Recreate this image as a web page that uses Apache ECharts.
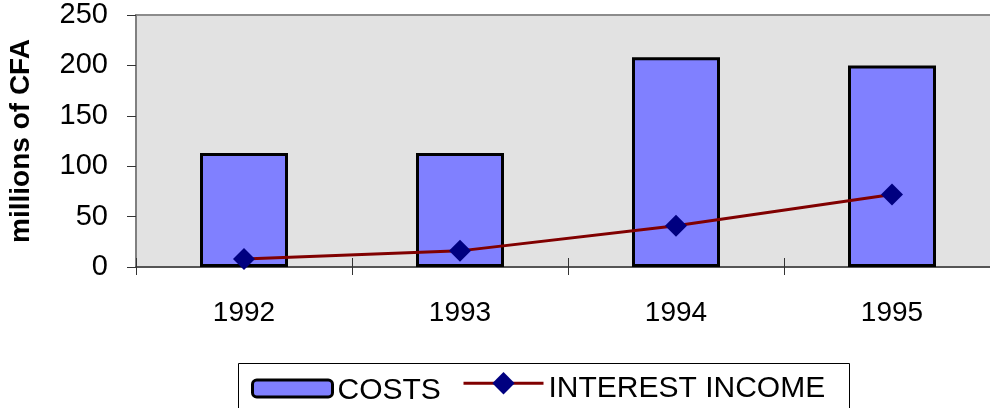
<!DOCTYPE html>
<html>
<head>
<meta charset="utf-8">
<script src="https://cdn.jsdelivr.net/npm/echarts@6/dist/echarts.min.js"></script>
<style>
html,body{margin:0;padding:0;overflow:hidden;background:#fff;}
#chart{width:1000px;height:408px;}
</style>
</head>
<body>
<div id="chart"></div>
<script>
const categories = ['1992', '1993', '1994', '1995'];
const costs = [113, 113, 208, 200];
const interestIncome = [8, 16, 41, 72];
const yTicks = [0, 50, 100, 150, 200, 250];

const FONT = '"Liberation Sans", Arial, sans-serif';
const chart = echarts.init(document.getElementById('chart'), null, {renderer: 'canvas'});
chart.setOption({
  animation: false,
  textStyle: {fontFamily: FONT},
  grid: {
    left: 136, right: 0, top: 15, bottom: 141,
    containLabel: false,
    outerBoundsMode: 'none',
    show: true, backgroundColor: '#e2e2e2',
    borderColor: '#8c8c8c', borderWidth: 2
  },
  graphic: [{
    type: 'rect',
    z: 0,
    shape: {x: 238.5, y: 363.5, width: 611, height: 60},
    style: {fill: '#fff', stroke: '#000', lineWidth: 1}
  }],
  legend: [
    {
      left: 251, top: 376,
      padding: 0,
      itemWidth: 80, itemHeight: 17,
      itemStyle: {borderColor: '#000', borderWidth: 3},
      formatter: name => '{t|' + name + '}',
      textStyle: {
        fontFamily: FONT, fontSize: 30, color: '#000',
        rich: {t: {fontFamily: FONT, fontSize: 30, color: '#000', padding: [5, 0, 0, 0]}}
      },
      data: [{name: 'COSTS'}]
    },
    {
      left: 462, top: 372,
      padding: 0,
      itemWidth: 80, itemHeight: 28,
      lineStyle: {width: 3, color: '#800000'},
      formatter: name => '{t|' + name + '}',
      textStyle: {
        fontFamily: FONT, fontSize: 30, color: '#000',
        rich: {t: {fontFamily: FONT, fontSize: 30, color: '#000', padding: [12, 0, 0, 0]}}
      },
      data: [{name: 'INTEREST INCOME'}]
    }
  ],
  xAxis: [
    {
      type: 'category',
      data: categories,
      axisLine: {lineStyle: {color: '#555', width: 2}},
      axisTick: {show: true, length: 8, lineStyle: {color: '#333', width: 1}},
      axisLabel: {fontSize: 28, color: '#000', margin: 32, fontFamily: FONT},
      splitLine: {show: false}
    },
    {
      type: 'category',
      data: categories,
      position: 'bottom',
      axisLine: {show: false},
      axisTick: {show: true, inside: true, length: 9, lineStyle: {color: '#333', width: 1}},
      axisLabel: {show: false},
      splitLine: {show: false}
    }
  ],
  yAxis: {
    type: 'value',
    min: 0, max: 250, interval: 50,
    name: 'millions of CFA',
    nameLocation: 'middle',
    nameRotate: 90,
    nameGap: 101,
    nameTextStyle: {fontSize: 28, fontWeight: 'bold', color: '#000', fontFamily: FONT},
    axisLine: {show: true, lineStyle: {color: '#808080', width: 2}},
    axisTick: {show: true, length: 9, lineStyle: {color: '#333', width: 1}},
    axisLabel: {
      fontSize: 29, color: '#000', margin: 28, fontFamily: FONT,
      formatter: v => yTicks.includes(v) ? String(v) : ''
    },
    splitLine: {show: false}
  },
  series: [
    {
      name: 'COSTS',
      type: 'bar',
      data: costs,
      barWidth: 88,
      itemStyle: {color: '#8080ff', borderColor: '#000', borderWidth: 3}
    },
    {
      name: 'INTEREST INCOME',
      type: 'line',
      data: interestIncome,
      symbol: 'diamond',
      symbolSize: 22,
      lineStyle: {color: '#800000', width: 3},
      itemStyle: {color: '#000080'}
    }
  ]
});
</script>
</body>
</html>
